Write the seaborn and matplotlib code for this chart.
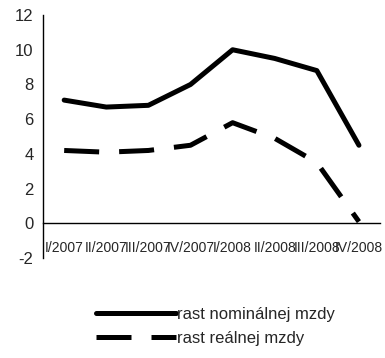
import matplotlib
matplotlib.use("Agg")
import matplotlib.pyplot as plt
import seaborn as sns
import pandas as pd
import numpy as np

quarters = ["I/2007", "II/2007", "III/2007", "IV/2007",
            "I/2008", "II/2008", "III/2008", "IV/2008"]
nominal = [7.1, 6.7, 6.8, 8.0, 10.0, 9.5, 8.8, 4.5]
real = [4.2, 4.1, 4.2, 4.5, 5.8, 4.9, 3.5, 0.1]
series_names = ["rast nominálnej mzdy", "rast reálnej mzdy"]
y_ticks = [-2, 0, 2, 4, 6, 8, 10, 12]

df = pd.DataFrame({
    "q": list(range(len(quarters))) * 2,
    "val": nominal + real,
    "series": [series_names[0]] * len(quarters) + [series_names[1]] * len(quarters),
})

sns.set_style("white")
plt.rcParams["font.family"] = ["Liberation Sans", "DejaVu Sans"]
fs = 12

fig = plt.figure(figsize=(3.85, 3.58), dpi=100)
ax = fig.add_axes([0.112, 0.279, 0.875, 0.679])

lw = 3.6
sns.lineplot(data=df, x="q", y="val", hue="series", style="series",
             palette=["black", "black"],
             dashes={series_names[0]: "", series_names[1]: (7, 4)},
             linewidth=lw, ax=ax, legend=True)
for ln in ax.get_lines():
    ln.set_solid_capstyle("round")
    ln.set_dash_capstyle("butt")

ax.set_xlim(-0.5, len(quarters) - 0.5)
ax.set_ylim(-2, 12)
ax.set_yticks(y_ticks)
ax.set_yticklabels([str(v) for v in y_ticks], fontsize=fs)

# boundary ticks on the x axis, labels centred under each quarter
ax.set_xticks(np.arange(-0.5, len(quarters), 1.0))
ax.set_xticklabels([])
ax.set_xticks(range(len(quarters)), minor=True)
ax.set_xticklabels(quarters, minor=True, fontsize=fs)
ax.tick_params(axis="x", which="major", direction="out", length=5, width=1, color="black")
ax.tick_params(axis="x", which="minor", length=0, pad=13)
ax.tick_params(axis="y", direction="out", length=4, width=1, color="black", pad=3)

ax.set_xlabel("")
ax.set_ylabel("")
ax.grid(False)
for s in ["top", "right"]:
    ax.spines[s].set_visible(False)
ax.spines["bottom"].set_position(("data", 0))
ax.spines["bottom"].set_color("black")
ax.spines["left"].set_color("black")
ax.spines["bottom"].set_linewidth(1)
ax.spines["left"].set_linewidth(1)

handles, labels = ax.get_legend_handles_labels()
leg = ax.legend(handles, labels, loc="upper left", bbox_to_anchor=(0.156, -0.20),
                frameon=False, fontsize=fs, handlelength=80 / (fs * 100 / 72),
                handletextpad=0.05, labelspacing=0.53, borderpad=0, borderaxespad=0)
for h in leg.get_lines():
    h.set_linewidth(lw)

fig.savefig("out.png", dpi=100)
